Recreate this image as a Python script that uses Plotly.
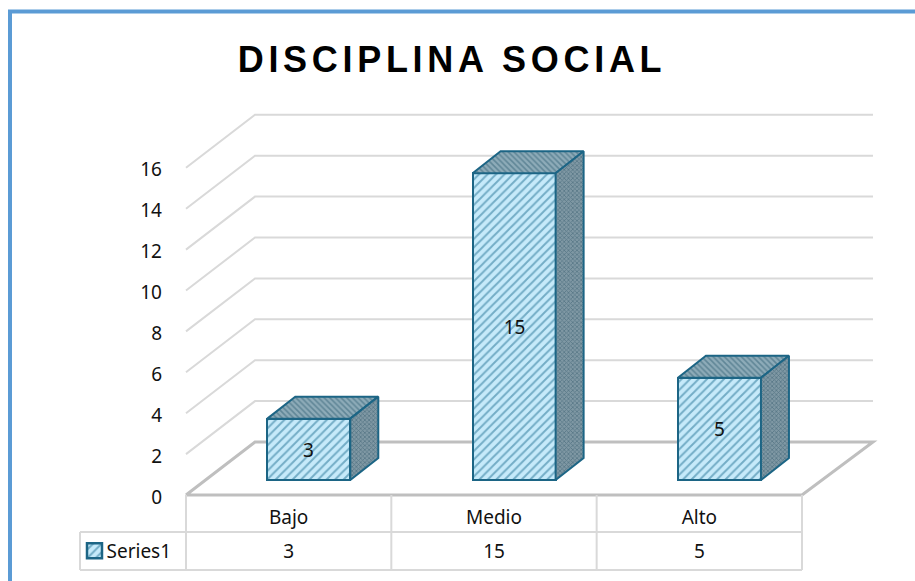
import plotly.graph_objects as go

categories = ["Bajo", "Medio", "Alto"]
values = [3, 15, 5]
series_name = "Series1"
y_ticks = [0, 2, 4, 6, 8, 10, 12, 14, 16]
title_text = "DISCIPLINA SOCIAL"

W, H = 915, 581
PX_X, PX_Y = 205.33, 20.45      # pixels per category, pixels per value unit
X0, Y0 = 186, 495               # pixel position of the origin
WALL_DX, WALL_DY = 69 / PX_X, 53 / PX_Y
WALL_RIGHT = 2 / PX_X
BAR_X, BAR_BASE = 0.098, 15 / PX_Y
BAR_W = 83 / PX_X
BAR_DX, BAR_DY = 28 / PX_X, 22 / PX_Y
ROW3 = (495 - 570) / PX_Y
ROW1 = (495 - 532) / PX_Y
LEG_L = (80 - X0) / PX_X
n = len(categories)

FONT = "Noto Sans"
GRID = "#d9d9d9"
FLOOR = "#bfbfbf"
EDGE = "#1c6585"
TEXT = "#111111"
FS = 19


def line_shape(pts, color, width):
    path = "M" + "L".join(f"{x},{y}" for x, y in pts)
    return dict(type="path", path=path, xref="x", yref="y", layer="below",
                line=dict(color=color, width=width))


shapes = []
for v in y_ticks[1:]:
    shapes.append(line_shape([(0, v), (WALL_DX, v + WALL_DY), (n + WALL_DX + WALL_RIGHT, v + WALL_DY)], GRID, 2))
shapes.append(line_shape([(0, 0), (WALL_DX, WALL_DY), (n + WALL_DX + WALL_RIGHT, WALL_DY), (n, 0), (0, 0)], FLOOR, 3))
# data table
for i in range(0, n + 1):
    shapes.append(line_shape([(i, 0), (i, ROW3)], GRID, 2))
shapes.append(line_shape([(LEG_L, ROW1), (n, ROW1)], GRID, 2))
shapes.append(line_shape([(LEG_L, ROW3), (n, ROW3)], GRID, 2))
shapes.append(line_shape([(LEG_L, ROW1), (LEG_L, ROW3)], GRID, 2))
# outer frame
shapes.append(dict(type="path", xref="paper", yref="paper", layer="above",
                   path=f"M{10/W},0L{10/W},{1-11.5/H}L1,{1-11.5/H}",
                   line=dict(color="#5b9bd5", width=4)))

centers = [i + 0.5 + BAR_X for i in range(n)]
fig = go.Figure()
fig.add_trace(go.Bar(
    x=centers, y=values, base=[BAR_BASE] * n, width=BAR_W, name=series_name,
    text=[str(v) for v in values], textposition="inside", insidetextanchor="middle",
    textangle=0, constraintext="none", insidetextfont=dict(family=FONT, size=FS, color=TEXT),
    marker=dict(color="#c4e8f8", line=dict(color=EDGE, width=2),
                pattern=dict(shape="/", size=6, solidity=0.32, fgcolor="#1f6f92", bgcolor="#c6eafa")),
    showlegend=True, hoverinfo="skip",
))
for c, v in zip(centers, values):
    l, r = c - BAR_W / 2, c + BAR_W / 2
    b, t = BAR_BASE, BAR_BASE + v
    fig.add_trace(go.Scatter(
        x=[l, l + BAR_DX, r + BAR_DX, r, l],
        y=[t, t + BAR_DY, t + BAR_DY, t, t],
        mode="lines", fill="toself", showlegend=False, hoverinfo="skip",
        fillcolor="#7f9dab", line=dict(color=EDGE, width=2),
        fillpattern=dict(shape="\\", size=4, solidity=0.4, fgcolor="#336276", bgcolor="#8dabb8"),
    ))
    fig.add_trace(go.Scatter(
        x=[r, r + BAR_DX, r + BAR_DX, r, r],
        y=[t, t + BAR_DY, b + BAR_DY, b, t],
        mode="lines", fill="toself", showlegend=False, hoverinfo="skip",
        fillcolor="#667f8b", line=dict(color=EDGE, width=2),
        fillpattern=dict(shape="x", size=3, solidity=0.45, fgcolor="#2f566a", bgcolor="#7f98a4"),
    ))
fig.add_trace(go.Scatter(
    x=[i + 0.5 for i in range(n)], y=[(495 - 519) / PX_Y] * n, text=categories,
    mode="text", textfont=dict(family=FONT, size=FS, color=TEXT),
    showlegend=False, hoverinfo="skip",
))
fig.add_trace(go.Scatter(
    x=[i + 0.5 for i in range(n)], y=[(495 - 553.5) / PX_Y] * n, text=[str(v) for v in values],
    mode="text", textfont=dict(family=FONT, size=FS, color=TEXT),
    showlegend=False, hoverinfo="skip",
))

fig.update_layout(
    width=W, height=H, autosize=False, paper_bgcolor="white", plot_bgcolor="white",
    margin=dict(l=0, r=0, t=0, b=0), shapes=shapes, bargap=0,
    title=dict(text=f"<b>{title_text}</b>", x=452 / W, xanchor="center", y=1 - 59 / H, yanchor="middle",
               font=dict(family="Liberation Sans", size=36, color="black")),
    xaxis=dict(range=[(0 - X0) / PX_X, (W - X0) / PX_X], visible=False, fixedrange=True),
    yaxis=dict(range=[(Y0 - H) / PX_Y, Y0 / PX_Y], anchor="free", position=162 / W,
               tickmode="array", tickvals=y_ticks, ticktext=[str(t) for t in y_ticks],
               showgrid=False, zeroline=False, showline=False, ticks="", ticklabelshift=2,
               tickfont=dict(family=FONT, size=FS, color=TEXT), fixedrange=True),
    legend=dict(x=(94.5 - 20) / W, xanchor="left", y=1 - 551 / H, yanchor="middle",
                bgcolor="rgba(0,0,0,0)", font=dict(family=FONT, size=FS, color=TEXT)),
    showlegend=True,
)

post = """
document.body.style.margin='0';
var t=document.querySelector('.gtitle'); if(t){t.style.letterSpacing='4.7px';}
var lt=document.querySelector('.legendtext'); if(lt){lt.setAttribute('x', String(parseFloat(lt.getAttribute('x'))-8));}
var p=document.querySelector('.legend .legendpoints path'); if(p){var tr=p.getAttribute('transform')||''; p.setAttribute('transform', tr+' scale(1.25)');}
"""
fig.write_html("out.html", post_script=post, config={"displayModeBar": False})
